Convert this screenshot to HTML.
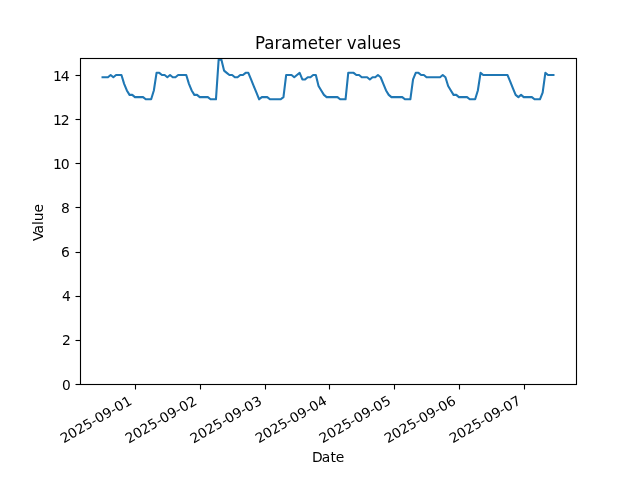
<!DOCTYPE html>
<html lang="en">
<head>
<meta charset="utf-8">
<title>Parameter values</title>
<style>
html,body{margin:0;padding:0;background:#fff;}
body{width:640px;height:480px;overflow:hidden;}
svg{display:block;}
text{font-family:"DejaVu Sans","Liberation Sans",sans-serif;fill:#000;}
.t10{font-size:13.889px;}
.t12{font-size:16.667px;}
.ax{stroke:#000;stroke-width:1.111;fill:none;}
</style>
</head>
<body>
<svg width="640" height="480" viewBox="0 0 640 480">
<rect x="0" y="0" width="640" height="480" fill="#ffffff"/>
<defs><clipPath id="axclip"><rect x="80" y="57.6" width="496" height="326.4"/></clipPath></defs>

<g class="ax" stroke-linecap="butt">
<line x1="135.5" y1="384.5" x2="135.5" y2="389.5"/>
<line x1="200.5" y1="384.5" x2="200.5" y2="389.5"/>
<line x1="265.5" y1="384.5" x2="265.5" y2="389.5"/>
<line x1="329.5" y1="384.5" x2="329.5" y2="389.5"/>
<line x1="394.5" y1="384.5" x2="394.5" y2="389.5"/>
<line x1="459.5" y1="384.5" x2="459.5" y2="389.5"/>
<line x1="524.5" y1="384.5" x2="524.5" y2="389.5"/>
<line x1="75.5" y1="384.5" x2="80.5" y2="384.5"/>
<line x1="75.5" y1="340.5" x2="80.5" y2="340.5"/>
<line x1="75.5" y1="296.5" x2="80.5" y2="296.5"/>
<line x1="75.5" y1="252.5" x2="80.5" y2="252.5"/>
<line x1="75.5" y1="207.5" x2="80.5" y2="207.5"/>
<line x1="75.5" y1="163.5" x2="80.5" y2="163.5"/>
<line x1="75.5" y1="119.5" x2="80.5" y2="119.5"/>
<line x1="75.5" y1="75.5" x2="80.5" y2="75.5"/>
</g>
<g class="t10">
<text transform="translate(63.600 443.220) rotate(-30) translate(0 0.25) scale(1 0.97)" x="-0.12 8.31 17.27 25.97 34.80 39.69 48.52 57.22 62.22 70.92" y="0">2025-09-01</text>
<text transform="translate(128.401 443.220) rotate(-30) translate(0 0.5) scale(1 1.0)" x="0.00 8.69 17.39 26.22 35.17 39.69 48.64 57.09 62.22 71.05" y="0">2025-09-02</text>
<text transform="translate(193.202 443.220) rotate(-30) translate(0 0.5) scale(1 0.97)" x="0.00 8.81 17.64 26.47 35.67 39.81 48.77 57.59 62.47 71.30" y="0">2025-09-03</text>
<text transform="translate(258.004 443.220) rotate(-30) translate(0 0.5) scale(1 0.97)" x="0.50 9.06 17.77 26.59 35.30 40.19 49.02 58.09 62.59 71.67" y="0">2025-09-04</text>
<text transform="translate(322.805 443.220) rotate(-30) translate(0 0.0) scale(1 0.97)" x="-0.50 8.31 17.14 25.84 34.30 39.56 48.39 57.22 61.97 71.05" y="0">2025-09-05</text>
<text transform="translate(387.606 443.220) rotate(-30) translate(0 0.25) scale(1 0.97)" x="-0.12 8.31 17.27 25.97 34.80 39.69 48.39 57.22 62.22 70.92" y="0">2025-09-06</text>
<text transform="translate(452.407 443.220) rotate(-30) translate(0 0.25) scale(1 0.97)" x="0.12 8.69 17.52 26.22 34.67 39.69 48.89 57.22 62.22 71.17" y="0">2025-09-07</text>
<text transform="translate(70.778 390.277) scale(0.99 0.98)" text-anchor="end">0</text>
<text transform="translate(70.778 345.139) scale(1.0 0.96)" text-anchor="end">2</text>
<text transform="translate(70.778 301.001) scale(1.0 0.96)" text-anchor="end">4</text>
<text transform="translate(69.778 256.863) scale(1.0 1.0)" text-anchor="end">6</text>
<text transform="translate(69.778 212.725) scale(1.0 0.98)" text-anchor="end">8</text>
<text transform="translate(69.778 168.587) scale(1.01 0.98)" text-anchor="end" dx="0 -1.0">10</text>
<text transform="translate(69.778 125.449) scale(1.01 0.98)" text-anchor="end" dx="0 -1.0">12</text>
<text transform="translate(69.778 81.311) scale(1.01 1.0)" text-anchor="end" dx="0 -1.0">14</text>
<text transform="translate(328.000 461.830) scale(1 1.02)" x="-16.09 -6.29 2.59 7.66" y="0">Date</text>
<text transform="translate(43.160 222.550) rotate(-90) translate(0 -0.125) scale(1 1.02)" x="-18.55 -10.90 -2.40 1.21 10.01" y="0">Value</text>
</g>
<text class="t12" transform="translate(328.000 49.267) scale(1 1.08)" text-anchor="middle">Parameter values</text>
<path d="M102.55 77.24 L105.25 77.24 L107.95 77.24 L110.65 75.03 L113.35 77.24 L116.05 75.03 L118.75 75.03 L121.45 75.03 L124.15 83.86 L126.85 90.48 L129.55 94.90 L132.25 94.90 L134.95 97.10 L137.65 97.10 L140.35 97.10 L143.05 97.10 L145.75 99.31 L148.45 99.31 L151.15 99.31 L153.85 90.48 L156.55 72.83 L159.25 72.83 L161.95 75.03 L164.65 75.03 L167.35 77.24 L170.05 75.03 L172.75 77.24 L175.45 77.24 L178.15 75.03 L180.85 75.03 L183.55 75.03 L186.25 75.03 L188.95 83.86 L191.65 90.48 L194.35 94.90 L197.05 94.90 L199.75 97.10 L202.45 97.10 L205.15 97.10 L207.85 97.10 L210.55 99.31 L213.25 99.31 L215.95 99.31 L218.65 59.59 L221.35 59.59 L224.05 70.62 L226.75 72.83 L229.45 75.03 L232.15 75.03 L234.85 77.24 L237.55 77.24 L240.25 75.03 L242.95 75.03 L245.65 72.83 L248.35 72.83 L251.05 79.45 L253.75 86.07 L256.45 92.69 L259.15 99.31 L261.85 97.10 L264.55 97.10 L267.25 97.10 L269.95 99.31 L272.65 99.31 L275.35 99.31 L278.05 99.31 L280.75 99.31 L283.45 97.10 L286.15 75.03 L288.85 75.03 L291.55 75.03 L294.25 77.24 L296.95 75.03 L299.65 72.83 L302.35 79.45 L305.05 79.45 L307.75 77.24 L310.45 77.24 L313.15 75.03 L315.85 75.03 L318.55 86.07 L321.25 90.48 L323.95 94.90 L326.65 97.10 L329.35 97.10 L332.05 97.10 L334.75 97.10 L337.45 97.10 L340.15 99.31 L342.85 99.31 L345.55 99.31 L348.25 72.83 L350.95 72.83 L353.65 72.83 L356.35 75.03 L359.05 75.03 L361.75 77.24 L364.45 77.24 L367.15 77.24 L369.85 79.45 L372.55 77.24 L375.25 77.24 L377.95 75.03 L380.65 77.24 L383.35 83.86 L386.05 90.48 L388.75 94.90 L391.45 97.10 L394.15 97.10 L396.85 97.10 L399.55 97.10 L402.25 97.10 L404.95 99.31 L407.65 99.31 L410.35 99.31 L413.05 79.45 L415.75 72.83 L418.45 72.83 L421.15 75.03 L423.85 75.03 L426.55 77.24 L429.25 77.24 L431.95 77.24 L434.65 77.24 L437.35 77.24 L440.05 77.24 L442.75 75.03 L445.45 77.24 L448.15 86.07 L450.85 90.48 L453.55 94.90 L456.25 94.90 L458.95 97.10 L461.65 97.10 L464.35 97.10 L467.05 97.10 L469.75 99.31 L472.45 99.31 L475.15 99.31 L477.85 90.48 L480.55 72.83 L483.25 75.03 L485.95 75.03 L488.65 75.03 L491.35 75.03 L494.05 75.03 L496.75 75.03 L499.45 75.03 L502.15 75.03 L504.85 75.03 L507.55 75.03 L510.25 81.66 L512.95 88.28 L515.65 94.90 L518.35 97.10 L521.05 94.90 L523.75 97.10 L526.45 97.10 L529.15 97.10 L531.85 97.10 L534.55 99.31 L537.25 99.31 L539.95 99.31 L542.65 92.69 L545.35 72.83 L548.05 75.03 L550.75 75.03 L553.45 75.03" clip-path="url(#axclip)" fill="none" stroke="#1f77b4" stroke-width="2.0833" stroke-linejoin="round" stroke-linecap="square"/>
<rect class="ax" x="80.5" y="58.5" width="496" height="326"/>
</svg>
</body>
</html>
